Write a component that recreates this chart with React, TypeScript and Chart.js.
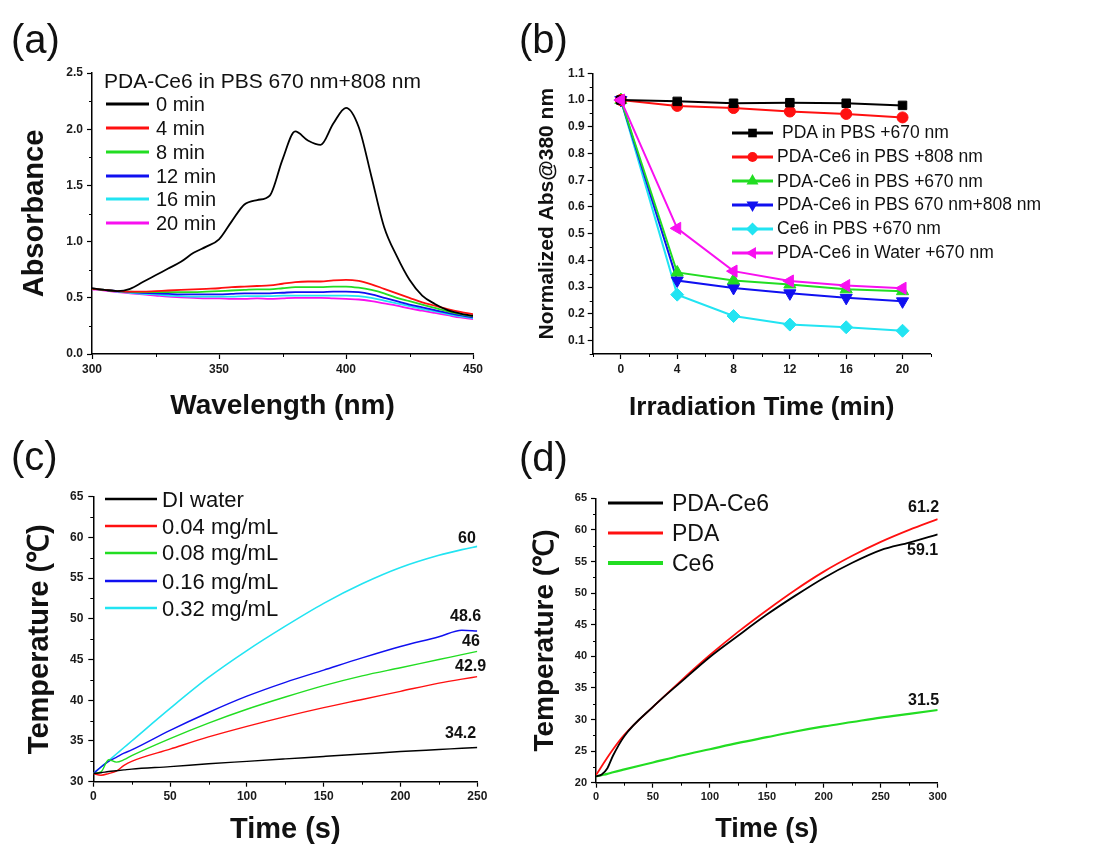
import React, { useEffect, useRef } from "react";
import { Chart, registerables } from "chart.js";

Chart.register(...registerables);

const FONT = 'Arial, "Liberation Sans", Helvetica, sans-serif';
Chart.defaults.font.family = FONT;

// ---------------- colours ----------------
const BLACK = "#000000";
const RED = "#ff1010";
const GREEN = "#22dd22";
const BLUE = "#1010f0";
const CYAN = "#22e4f2";
const MAGENTA = "#f810f0";

// ---------------- (a) UV-vis spectra ----------------
const wavelengthNm = [300, 305, 310, 315, 320, 325, 330, 335, 340, 345, 350, 355, 360, 365, 370, 375, 380, 385, 390, 395, 400, 405, 410, 415, 420, 425, 430, 435, 440, 445, 450];
const abs0min = [0.585, 0.57, 0.56, 0.58, 0.64, 0.7, 0.76, 0.82, 0.9, 0.955, 1.02, 1.18, 1.33, 1.37, 1.41, 1.73, 1.98, 1.9, 1.86, 2.05, 2.19, 2.02, 1.58, 1.13, 0.87, 0.66, 0.52, 0.445, 0.39, 0.36, 0.34];
const abs4min = [0.58, 0.57, 0.56, 0.555, 0.555, 0.56, 0.565, 0.57, 0.575, 0.58, 0.585, 0.595, 0.6, 0.605, 0.61, 0.625, 0.64, 0.645, 0.645, 0.655, 0.66, 0.65, 0.62, 0.58, 0.54, 0.5, 0.46, 0.43, 0.4, 0.375, 0.355];
const abs8min = [0.58, 0.57, 0.56, 0.555, 0.55, 0.55, 0.55, 0.55, 0.55, 0.555, 0.56, 0.565, 0.57, 0.575, 0.575, 0.585, 0.595, 0.595, 0.595, 0.6, 0.6, 0.59, 0.57, 0.54, 0.5, 0.47, 0.44, 0.41, 0.38, 0.355, 0.335];
const abs12min = [0.58, 0.57, 0.56, 0.55, 0.545, 0.54, 0.535, 0.53, 0.53, 0.53, 0.53, 0.535, 0.54, 0.54, 0.54, 0.545, 0.55, 0.55, 0.55, 0.555, 0.555, 0.55, 0.53, 0.5, 0.47, 0.44, 0.415, 0.39, 0.365, 0.345, 0.325];
const abs16min = [0.58, 0.57, 0.555, 0.545, 0.535, 0.53, 0.52, 0.515, 0.51, 0.51, 0.51, 0.51, 0.515, 0.515, 0.515, 0.52, 0.52, 0.52, 0.52, 0.52, 0.52, 0.515, 0.5, 0.475, 0.45, 0.425, 0.4, 0.38, 0.355, 0.335, 0.32];
const abs20min = [0.575, 0.565, 0.55, 0.54, 0.53, 0.52, 0.51, 0.505, 0.5, 0.495, 0.495, 0.49, 0.49, 0.495, 0.49, 0.495, 0.5, 0.5, 0.5, 0.495, 0.49, 0.485, 0.47, 0.45, 0.43, 0.405, 0.385, 0.365, 0.345, 0.325, 0.31];
const aSeriesNames = ["0 min", "4 min", "8 min", "12 min", "16 min", "20 min"];
const aXTicks = [300, 350, 400, 450];
const aXMinor = [325, 375, 425];
const aYTicks = [0, 0.5, 1.0, 1.5, 2.0, 2.5];
const aYMinor = [0.25, 0.75, 1.25, 1.75, 2.25];

// ---------------- (b) normalized absorbance ----------------
const irrTimeMin = [0, 4, 8, 12, 16, 20];
const bPdaPbs670 = [1.0, 0.995, 0.988, 0.99, 0.988, 0.98];
const bPdaCe6Pbs808 = [1.0, 0.978, 0.97, 0.957, 0.948, 0.935];
const bPdaCe6Pbs670 = [1.0, 0.355, 0.325, 0.31, 0.292, 0.285];
const bPdaCe6Pbs670808 = [1.0, 0.325, 0.297, 0.277, 0.26, 0.247];
const bCe6Pbs670 = [1.0, 0.272, 0.192, 0.16, 0.15, 0.137];
const bPdaCe6Water670 = [1.0, 0.52, 0.36, 0.323, 0.306, 0.296];
const bSeriesNames = [
  "PDA in PBS +670 nm",
  "PDA-Ce6 in PBS +808 nm",
  "PDA-Ce6 in PBS +670 nm",
  "PDA-Ce6 in PBS 670 nm+808 nm",
  "Ce6 in PBS +670 nm",
  "PDA-Ce6 in Water +670 nm",
];
const bXTicks = [0, 4, 8, 12, 16, 20];
const bXMinor = [-2, 2, 6, 10, 14, 18, 22];
const bYTicks = [0.1, 0.2, 0.3, 0.4, 0.5, 0.6, 0.7, 0.8, 0.9, 1.0, 1.1];
const bYMinor = [0.05, 0.15, 0.25, 0.35, 0.45, 0.55, 0.65, 0.75, 0.85, 0.95, 1.05];

// ---------------- (c) heating curves by concentration ----------------
const cTimeS = [0, 5, 10, 15, 20, 25, 50, 75, 100, 125, 150, 175, 200, 225, 240, 250];
const cDiWater = [31.0, 31.1, 31.25, 31.35, 31.45, 31.55, 31.85, 32.2, 32.5, 32.8, 33.1, 33.4, 33.7, 33.95, 34.1, 34.2];
const c004 = [31.0, 30.8, 31.0, 31.3, 32.0, 32.5, 34.0, 35.5, 36.8, 38.0, 39.1, 40.1, 41.1, 42.1, 42.6, 42.9];
const c008 = [31.0, 31.2, 32.7, 32.4, 32.7, 33.2, 35.3, 37.2, 38.9, 40.4, 41.8, 43.0, 44.0, 45.0, 45.6, 46.0];
const c016 = [31.0, 31.8, 32.5, 33.0, 33.5, 33.9, 36.3, 38.5, 40.5, 42.2, 43.7, 45.2, 46.6, 47.8, 48.6, 48.5];
const c032 = [31.0, 31.8, 32.6, 33.4, 34.2, 35.0, 39.0, 42.8, 46.1, 49.1, 51.9, 54.3, 56.3, 57.8, 58.5, 58.9];
const cSeriesNames = ["DI water", "0.04 mg/mL", "0.08 mg/mL", "0.16 mg/mL", "0.32 mg/mL"];
const cEndLabels = ["34.2", "42.9", "46", "48.6", "60"];
const cXTicks = [0, 50, 100, 150, 200, 250];
const cXMinor = [25, 75, 125, 175, 225];
const cYTicks = [30, 35, 40, 45, 50, 55, 60, 65];
const cYMinor = [32.5, 37.5, 42.5, 47.5, 52.5, 57.5, 62.5];

// ---------------- (d) heating curves by material ----------------
const dTimeS = [0, 5, 10, 15, 25, 50, 75, 100, 125, 150, 175, 200, 225, 250, 275, 300];
const dPdaCe6 = [21.0, 21.3, 22.3, 24.3, 27.4, 32.0, 36.0, 39.9, 43.3, 46.6, 49.6, 52.4, 54.8, 56.8, 58.0, 59.3];
const dPda = [21.2, 22.6, 24.0, 25.3, 27.6, 32.0, 36.2, 40.2, 43.9, 47.3, 50.5, 53.4, 55.9, 58.1, 60.0, 61.7];
const dCe6 = [21.0, 21.2, 21.4, 21.65, 22.1, 23.2, 24.3, 25.3, 26.3, 27.2, 28.1, 28.9, 29.6, 30.3, 30.9, 31.5];
const dSeriesNames = ["PDA-Ce6", "PDA", "Ce6"];
const dEndLabels = ["59.1", "61.2", "31.5"];
const dXTicks = [0, 50, 100, 150, 200, 250, 300];
const dXMinor = [25, 75, 125, 175, 225, 275];
const dYTicks = [20, 25, 30, 35, 40, 45, 50, 55, 60, 65];
const dYMinor = [22.5, 27.5, 32.5, 37.5, 42.5, 47.5, 52.5, 57.5, 62.5];

// ---------------- helpers ----------------
const zip = (xs: number[], ys: number[]) => xs.map((x, i) => ({ x, y: ys[i] }));

const minorTicksPlugin = {
  id: "minorTicks",
  afterDraw(chart: any, _args: any, opts: any) {
    const { ctx, chartArea } = chart;
    const len = opts.length ?? 3;
    const xs = chart.scales.x;
    const ys = chart.scales.y;
    ctx.save();
    ctx.strokeStyle = "#000";
    ctx.lineWidth = 1;
    ctx.beginPath();
    (opts.x || []).forEach((v: number) => {
      const px = Math.round(xs.getPixelForValue(v)) + 0.5;
      ctx.moveTo(px, chartArea.bottom);
      ctx.lineTo(px, chartArea.bottom + len);
    });
    (opts.y || []).forEach((v: number) => {
      const py = Math.round(ys.getPixelForValue(v)) + 0.5;
      ctx.moveTo(chartArea.left, py);
      ctx.lineTo(chartArea.left - len, py);
    });
    ctx.stroke();
    ctx.restore();
  },
};

type AxisOpts = {
  isX: boolean;
  min: number;
  max: number;
  ticks: number[];
  fmt: (v: number) => string;
  fit: number;
  tickSize: number;
  tickPad: number;
  title: string;
  titleSize: number;
  titleLH: number;
  titlePad: number;
};

const makeAxis = (o: AxisOpts) => ({
  type: "linear",
  position: o.isX ? "bottom" : "left",
  min: o.min,
  max: o.max,
  afterBuildTicks: (s: any) => {
    s.ticks = o.ticks.map((v) => ({ value: v }));
  },
  afterFit: (s: any) => {
    if (o.isX) s.height = o.fit;
    else s.width = o.fit;
  },
  ticks: {
    autoSkip: false,
    maxRotation: 0,
    padding: o.tickPad,
    color: "#1a1a1a",
    font: { family: FONT, size: o.tickSize, weight: "bold" },
    callback: (v: any) => o.fmt(Number(v)),
  },
  grid: {
    drawOnChartArea: false,
    drawTicks: true,
    tickLength: 5,
    color: "#000",
    tickWidth: 1.2,
  },
  border: { display: true, color: "#000", width: 1.5 },
  title: {
    display: true,
    text: o.title,
    color: "#111",
    font: { family: FONT, size: o.titleSize, weight: "bold", lineHeight: o.titleLH },
    padding: o.isX ? { top: 0, bottom: o.titlePad } : { top: o.titlePad, bottom: 0 },
  },
});

const baseOptions = (padTop: number, padRight: number, xAxis: any, yAxis: any, minorX: number[], minorY: number[]) => ({
  responsive: false,
  animation: false,
  devicePixelRatio: 1,
  layout: { padding: { top: padTop, right: padRight, left: 0, bottom: 0 } },
  plugins: {
    legend: { display: false },
    tooltip: { enabled: false },
    title: { display: false },
    minorTicks: { x: minorX, y: minorY, length: 3 },
  },
  scales: { x: xAxis, y: yAxis },
});

const lineDs = (label: string, data: any[], color: string, width: number) => ({
  label,
  data,
  borderColor: color,
  backgroundColor: color,
  borderWidth: width,
  pointRadius: 0,
  fill: false,
  cubicInterpolationMode: "monotone",
});

const fmt1 = (v: number) => v.toFixed(1);
const fmt0 = (v: number) => String(v);

// ---------------- chart configs ----------------
const configA = () => ({
  type: "line",
  data: {
    datasets: [
      lineDs(aSeriesNames[0], zip(wavelengthNm, abs0min), BLACK, 1.8),
      lineDs(aSeriesNames[1], zip(wavelengthNm, abs4min), RED, 1.8),
      lineDs(aSeriesNames[2], zip(wavelengthNm, abs8min), GREEN, 1.8),
      lineDs(aSeriesNames[3], zip(wavelengthNm, abs12min), BLUE, 1.8),
      lineDs(aSeriesNames[4], zip(wavelengthNm, abs16min), CYAN, 1.8),
      lineDs(aSeriesNames[5], zip(wavelengthNm, abs20min), MAGENTA, 1.8),
    ],
  },
  options: baseOptions(
    13,
    47,
    makeAxis({ isX: true, min: 300, max: 450, ticks: aXTicks, fmt: fmt0, fit: 76, tickSize: 12, tickPad: 3, title: "Wavelength (nm)", titleSize: 28, titleLH: 1.2, titlePad: 7 }),
    makeAxis({ isX: false, min: 0, max: 2.5, ticks: aYTicks, fmt: fmt1, fit: 92, tickSize: 12, tickPad: 4, title: "Absorbance", titleSize: 29, titleLH: 1.2, titlePad: 17.6 }),
    aXMinor,
    aYMinor
  ),
  plugins: [minorTicksPlugin],
});

const markerDs = (label: string, ys: number[], color: string, style: string, radius: number, rotation = 0) => ({
  label,
  data: zip(irrTimeMin, ys),
  borderColor: color,
  backgroundColor: color,
  borderWidth: 2,
  pointStyle: style,
  pointRadius: radius,
  pointRotation: rotation,
  pointBackgroundColor: color,
  pointBorderColor: color,
  pointBorderWidth: 1,
  fill: false,
  tension: 0,
});

const configB = () => ({
  type: "line",
  data: {
    datasets: [
      markerDs(bSeriesNames[5], bPdaCe6Water670, MAGENTA, "triangle", 7, 270),
      markerDs(bSeriesNames[0], bPdaPbs670, BLACK, "rect", 6),
      markerDs(bSeriesNames[1], bPdaCe6Pbs808, RED, "circle", 5.5),
      markerDs(bSeriesNames[2], bPdaCe6Pbs670, GREEN, "triangle", 7),
      markerDs(bSeriesNames[3], bPdaCe6Pbs670808, BLUE, "triangle", 7, 180),
      markerDs(bSeriesNames[4], bCe6Pbs670, CYAN, "rectRot", 6.5),
    ],
  },
  options: baseOptions(
    13.3,
    176.3,
    makeAxis({ isX: true, min: -2, max: 22, ticks: bXTicks, fmt: fmt0, fit: 76, tickSize: 12, tickPad: 3, title: "Irradiation Time (min)", titleSize: 26, titleLH: 1.2, titlePad: 6.4 }),
    makeAxis({ isX: false, min: 0.05, max: 1.1, ticks: bYTicks, fmt: fmt1, fit: 72.7, tickSize: 12, tickPad: 3, title: "Normalized Abs@380 nm", titleSize: 21, titleLH: 1.2, titlePad: 14.4 }),
    bXMinor,
    bYMinor
  ),
  plugins: [minorTicksPlugin],
});

const configC = () => ({
  type: "line",
  data: {
    datasets: [
      lineDs(cSeriesNames[0], zip(cTimeS, cDiWater), BLACK, 1.4),
      lineDs(cSeriesNames[1], zip(cTimeS, c004), RED, 1.4),
      lineDs(cSeriesNames[2], zip(cTimeS, c008), GREEN, 1.4),
      lineDs(cSeriesNames[3], zip(cTimeS, c016), BLUE, 1.4),
      lineDs(cSeriesNames[4], zip(cTimeS, c032), CYAN, 1.6),
    ],
  },
  options: baseOptions(
    56.7,
    42.7,
    makeAxis({ isX: true, min: 0, max: 250, ticks: cXTicks, fmt: fmt0, fit: 64.3, tickSize: 12, tickPad: 3, title: "Time (s)", titleSize: 29, titleLH: 1.0, titlePad: 1.5 }),
    makeAxis({ isX: false, min: 30, max: 65, ticks: cYTicks, fmt: fmt0, fit: 93.3, tickSize: 12, tickPad: 5, title: "Temperature (\u2103)", titleSize: 29, titleLH: 1.2, titlePad: 22.6 }),
    cXMinor,
    cYMinor
  ),
  plugins: [minorTicksPlugin],
});

const configD = () => ({
  type: "line",
  data: {
    datasets: [
      lineDs(dSeriesNames[0], zip(dTimeS, dPdaCe6), BLACK, 1.8),
      lineDs(dSeriesNames[1], zip(dTimeS, dPda), RED, 1.8),
      lineDs(dSeriesNames[2], zip(dTimeS, dCe6), GREEN, 2.2),
    ],
  },
  options: baseOptions(
    58.3,
    169.3,
    makeAxis({ isX: true, min: 0, max: 300, ticks: dXTicks, fmt: fmt0, fit: 63.3, tickSize: 11, tickPad: 3, title: "Time (s)", titleSize: 27, titleLH: 1.0, titlePad: 2.5 }),
    makeAxis({ isX: false, min: 20, max: 65, ticks: dYTicks, fmt: fmt0, fit: 76, tickSize: 11, tickPad: 4, title: "Temperature (\u2103)", titleSize: 28, titleLH: 1.2, titlePad: 8.2 }),
    dXMinor,
    dYMinor
  ),
  plugins: [minorTicksPlugin],
});

// ---------------- components ----------------
function ChartCanvas({ left, top, width, height, config }: { left: number; top: number; width: number; height: number; config: () => any }) {
  const ref = useRef<HTMLCanvasElement>(null);
  useEffect(() => {
    const chart = new Chart(ref.current as HTMLCanvasElement, config() as any);
    return () => chart.destroy();
  }, []);
  return (
    <canvas
      ref={ref}
      width={width}
      height={height}
      style={{ position: "absolute", left, top, width, height, display: "block" }}
    />
  );
}

function Marker({ kind, cx, cy, color }: { kind: string; cx: number; cy: number; color: string }) {
  const r = 6;
  if (kind === "rect") return <rect x={cx - 4.3} y={cy - 4.3} width={8.6} height={8.6} fill={color} />;
  if (kind === "circle") return <circle cx={cx} cy={cy} r={5} fill={color} />;
  const tri = (rot: number) => {
    const pts = [0, 120, 240]
      .map((a) => {
        const rad = ((a + rot) * Math.PI) / 180;
        return `${cx + Math.sin(rad) * r * 1.15},${cy - Math.cos(rad) * r * 1.15}`;
      })
      .join(" ");
    return <polygon points={pts} fill={color} />;
  };
  if (kind === "up") return tri(0);
  if (kind === "down") return tri(180);
  if (kind === "left") return tri(270);
  if (kind === "diamond")
    return <polygon points={`${cx - 6.5},${cy} ${cx},${cy - 6.5} ${cx + 6.5},${cy} ${cx},${cy + 6.5}`} fill={color} />;
  return null;
}

function LegendRow({
  left,
  cy,
  lineLen,
  color,
  thickness,
  text,
  fontSize,
  gap,
  marker,
}: {
  left: number;
  cy: number;
  lineLen: number;
  color: string;
  thickness: number;
  text: string;
  fontSize: number;
  gap: number;
  marker?: string;
}) {
  const h = Math.ceil(fontSize * 1.2);
  return (
    <div
      style={{
        position: "absolute",
        left,
        top: cy - h / 2,
        height: h,
        display: "flex",
        alignItems: "center",
        whiteSpace: "nowrap",
        color: "#111",
      }}
    >
      <svg width={lineLen} height={16} style={{ display: "block", flex: "none" }}>
        <line x1={0} y1={8} x2={lineLen} y2={8} stroke={color} strokeWidth={thickness} />
        {marker ? <Marker kind={marker} cx={lineLen / 2} cy={8} color={color} /> : null}
      </svg>
      <span style={{ marginLeft: gap, fontSize, lineHeight: `${h}px`, fontFamily: FONT }}>{text}</span>
    </div>
  );
}

function TextAt({ left, cy, text, size, bold }: { left: number; cy: number; text: string; size: number; bold?: boolean }) {
  const h = Math.ceil(size * 1.2);
  return (
    <div
      style={{
        position: "absolute",
        left,
        top: cy - h / 2,
        height: h,
        lineHeight: `${h}px`,
        fontSize: size,
        fontWeight: bold ? "bold" : "normal",
        fontFamily: FONT,
        color: "#111",
        whiteSpace: "nowrap",
      }}
    >
      {text}
    </div>
  );
}

export default function App() {
  const aColors = [BLACK, RED, GREEN, BLUE, CYAN, MAGENTA];
  const aRows = [104.3, 127.7, 151.7, 175.7, 199, 222.7];
  const bColors = [BLACK, RED, GREEN, BLUE, CYAN, MAGENTA];
  const bMarkers = ["rect", "circle", "up", "down", "diamond", "left"];
  const bRows = [132.7, 156.7, 181, 204.7, 228.7, 252.7];
  const cColors = [BLACK, RED, GREEN, BLUE, CYAN];
  const cRows = [499, 526, 552.7, 581, 608.3];
  const dColors = [BLACK, RED, GREEN];
  const dRows = [503.3, 533.3, 563.3];

  return (
    <div
      style={{
        position: "absolute",
        left: 0,
        top: 0,
        width: 1107,
        height: 846,
        background: "#ffffff",
        overflow: "hidden",
        fontFamily: FONT,
      }}
    >
      <ChartCanvas left={0} top={60} width={520} height={370} config={configA} />
      <ChartCanvas left={520} top={60} width={587} height={370} config={configB} />
      <ChartCanvas left={0} top={440} width={520} height={406} config={configC} />
      <ChartCanvas left={520} top={440} width={587} height={406} config={configD} />

      {/* panel labels */}
      <TextAt left={11} cy={39} text="(a)" size={40} />
      <TextAt left={519} cy={39} text="(b)" size={40} />
      <TextAt left={11} cy={456} text="(c)" size={40} />
      <TextAt left={519} cy={457} text="(d)" size={40} />

      {/* legend (a) */}
      <TextAt left={104} cy={80.7} text="PDA-Ce6 in PBS 670 nm+808 nm" size={21} />
      {aSeriesNames.map((n, i) => (
        <LegendRow key={n} left={106} cy={aRows[i]} lineLen={43} color={aColors[i]} thickness={3} text={n} fontSize={20} gap={7} />
      ))}

      {/* legend (b) */}
      {bSeriesNames.map((n, i) => (
        <LegendRow
          key={n}
          left={732}
          cy={bRows[i]}
          lineLen={41}
          color={bColors[i]}
          thickness={3}
          text={n}
          fontSize={17.5}
          gap={i === 0 ? 9 : 4}
          marker={bMarkers[i]}
        />
      ))}

      {/* legend (c) */}
      {cSeriesNames.map((n, i) => (
        <LegendRow key={n} left={105} cy={cRows[i]} lineLen={52} color={cColors[i]} thickness={2.5} text={n} fontSize={22} gap={5} />
      ))}
      <TextAt left={445} cy={732.5} text={cEndLabels[0]} size={16} bold />
      <TextAt left={455} cy={666} text={cEndLabels[1]} size={16} bold />
      <TextAt left={462} cy={641} text={cEndLabels[2]} size={16} bold />
      <TextAt left={450} cy={616} text={cEndLabels[3]} size={16} bold />
      <TextAt left={458} cy={537.5} text={cEndLabels[4]} size={16} bold />

      {/* legend (d) */}
      {dSeriesNames.map((n, i) => (
        <LegendRow key={n} left={608} cy={dRows[i]} lineLen={55} color={dColors[i]} thickness={i === 2 ? 4 : 3} text={n} fontSize={23} gap={9} />
      ))}
      <TextAt left={907} cy={550} text={dEndLabels[0]} size={16} bold />
      <TextAt left={908} cy={506.7} text={dEndLabels[1]} size={16} bold />
      <TextAt left={908} cy={700} text={dEndLabels[2]} size={16} bold />
    </div>
  );
}
